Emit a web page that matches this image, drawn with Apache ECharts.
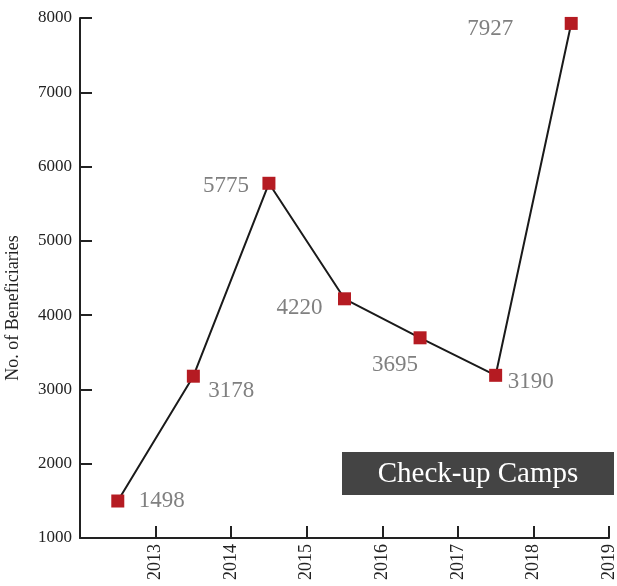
<!DOCTYPE html>
<html>
<head>
<meta charset="utf-8">
<script src="https://cdn.jsdelivr.net/npm/echarts@6/dist/echarts.min.js"></script>
<style>
  html, body { margin: 0; padding: 0; background: #fff; }
  #chart { width: 617px; height: 586px; }
</style>
</head>
<body>
<div id="chart"></div>
<script>
// x positions sit in the middle of each year band
const years = [2012.5, 2013.5, 2014.5, 2015.5, 2016.5, 2017.5, 2018.5]
const beneficiaries = [1498, 3178, 5775, 4220, 3695, 3190, 7927]
const yearTicks = ['2013', '2014', '2015', '2016', '2017', '2018', '2019']
// label placement relative to each marker
const labelOffsets = [[44, 0], [38, 15], [-43, 3], [-45, 9], [-25, 27], [35, 7], [-81, 6]]

const fontFamily = "'Liberation Serif', 'DejaVu Serif', serif"

const chart = echarts.init(document.getElementById('chart'))

const option = {
  animation: false,
  textStyle: { fontFamily: fontFamily },
  grid: { left: 80, right: 8, top: 18, bottom: 48, containLabel: false, outerBoundsMode: 'none' },
  xAxis: {
    type: 'value',
    min: 2012,
    max: 2019,
    interval: 1,
    splitLine: { show: false },
    axisLine: { show: true, lineStyle: { color: '#222', width: 2 } },
    axisTick: { show: true, inside: true, length: 12, lineStyle: { color: '#222', width: 2 } },
    axisLabel: {
      rotate: 90,
      margin: 6,
      fontSize: 18,
      color: '#222',
      fontFamily: fontFamily,
      formatter: v => yearTicks.includes(String(v)) ? String(v) : ''
    }
  },
  yAxis: {
    type: 'value',
    min: 1000,
    max: 8000,
    interval: 1000,
    name: 'No. of Beneficiaries',
    nameLocation: 'middle',
    nameGap: 58,
    nameTextStyle: { fontSize: 18, color: '#222', fontFamily: fontFamily, padding: [0, 0, 0, -60] },
    splitLine: { show: false },
    axisLine: { show: true, lineStyle: { color: '#222', width: 2 } },
    axisTick: { show: true, inside: true, length: 12, lineStyle: { color: '#222', width: 2 } },
    axisLabel: { fontSize: 17, color: '#222', margin: 8, fontFamily: fontFamily, formatter: v => String(v) }
  },
  graphic: [
    {
      type: 'group',
      left: 342,
      top: 452,
      children: [
        { type: 'rect', shape: { x: 0, y: 0, width: 272, height: 43 }, style: { fill: '#444' } },
        {
          type: 'text',
          x: 136,
          y: 22,
          style: {
            text: 'Check-up Camps',
            fill: '#fff',
            fontSize: 29,
            fontFamily: fontFamily,
            align: 'center',
            verticalAlign: 'middle'
          }
        }
      ]
    }
  ],
  series: [
    {
      type: 'line',
      data: years.map((y, i) => ({
        value: [y, beneficiaries[i]],
        label: { offset: labelOffsets[i] }
      })),
      symbol: 'rect',
      symbolSize: 13,
      lineStyle: { color: '#1a1a1a', width: 2 },
      itemStyle: { color: '#b51b22' },
      label: {
        show: true,
        position: 'inside',
        fontSize: 23,
        color: '#808080',
        fontFamily: fontFamily,
        formatter: p => String(p.value[1])
      }
    }
  ]
}

chart.setOption(option)
window.addEventListener('resize', () => {
  chart?.resize()
})
</script>
</body>
</html>
